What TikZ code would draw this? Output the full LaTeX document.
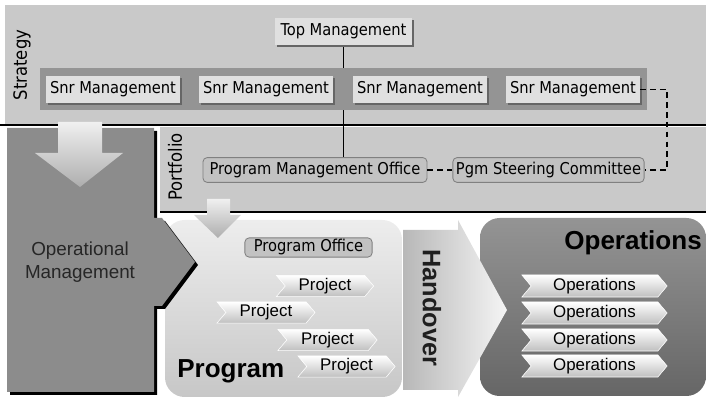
\documentclass[tikz,border=0pt]{standalone}
\usepackage{fontspec}
\setmainfont{Liberation Sans}
\newfontfamily\boxfont{DejaVu Sans Condensed}
\usepackage{tikz}
\usetikzlibrary{shapes.symbols,shadows}

\definecolor{bandgray}{gray}{0.79}
\definecolor{snrgray}{gray}{0.58}
\definecolor{opgray}{gray}{0.55}

\pgfdeclarelayer{back}
\pgfdeclarelayer{band}
\pgfsetlayers{back,band,main}

\begin{document}
\begin{tikzpicture}[x=0.025cm, y=-0.025cm,
    raised/.style={fill=black!12, inner sep=0pt, minimum height=0.68cm,
                   font=\boxfont\fontsize{11.6}{13}\selectfont,
                   drop shadow={shadow xshift=1.2pt, shadow yshift=-1.2pt,
                                fill=black!60, opacity=1}},
    inset/.style={fill=black!24, draw=black!50, line width=0.6pt,
                  rounded corners=3pt, inner sep=0pt, minimum height=0.62cm,
                  font=\boxfont\fontsize{11.6}{13}\selectfont},
    chevron/.style={signal, signal from=west, signal to=east,
                    signal pointer angle=100, top color=white,
                    bottom color=black!25, draw=white, line width=0.4pt,
                    inner sep=0pt, font=\fontsize{12}{14}\selectfont},
    sidelabel/.style={rotate=90, font=\boxfont\fontsize{13}{15}\selectfont},
    bigword/.style={inner sep=0pt, font=\bfseries\fontsize{18.5}{20}\selectfont},
    shaded arrow/.style={top color=black!6, bottom color=black!32},
    rule/.style={line width=1.4pt},
    link/.style={line width=1pt},
    dashlink/.style={link, dash pattern=on 4pt off 3pt}]
  \useasboundingbox (0,0) rectangle (706,399);

  % bands and panels
  \begin{pgfonlayer}{back}
    \fill[bandgray] (5,5) rectangle (706,125);
    \fill[bandgray] (160,127) rectangle (706,211);
    \draw[rule] (0,125) -- (706,125);
    \draw[rule] (160,212) -- (706,212);
    \shade[top color=black!7, bottom color=black!22, rounded corners=14pt]
      (165,220) rectangle (402,397);
    \shade[top color=black!42, bottom color=black!60, rounded corners=14pt]
      (480,218) rectangle (706,396);
    \shade[left color=black!28, right color=black!4]
      (403,230) -- (458,230) -- (458,220) -- (507,310) -- (458,397)
      -- (458,390) -- (403,390) -- cycle;
    \fill[black, shift={(3,3)}]
      (7,128) -- (154,128) -- (154,218) -- (162,218) -- (195,262)
      -- (162,306) -- (154,306) -- (154,392) -- (7,392) -- cycle;
    \fill[opgray]
      (7,128) -- (154,128) -- (154,218) -- (162,218) -- (195,262)
      -- (162,306) -- (154,306) -- (154,392) -- (7,392) -- cycle;
  \end{pgfonlayer}

  \shade[shaded arrow] (58,122) -- (102,122) -- (102,153) -- (123,153)
    -- (80,187) -- (35,153) -- (58,153) -- cycle;
  \shade[shaded arrow] (207,199) -- (230,199) -- (230,215) -- (241,215)
    -- (218,238) -- (194,215) -- (207,215) -- cycle;

  \node[sidelabel] (strategy) at (22,65) {Strategy};
  \node[sidelabel] (portfolio) at (175,167) {Portfolio};

  \node[raised, minimum width=3.43cm] (topmgmt) at (343.5,31.5) {Top Management};
  \node[raised, minimum width=3.35cm] (snr1) at (113,89.5) {Snr Management};
  \node[raised, minimum width=3.35cm] (snr2) at (266,89.5) {Snr Management};
  \node[raised, minimum width=3.35cm] (snr3) at (420,89.5) {Snr Management};
  \node[raised, minimum width=3.35cm] (snr4) at (573,89.5) {Snr Management};

  \node[inset, minimum width=5.6cm] (pmo) at (315,170) {Program Management Office};
  \node[inset, minimum width=4.78cm] (steering) at (548.5,170) {Pgm Steering Committee};
  \node[inset, minimum width=3.18cm, minimum height=0.48cm] (progoffice)
    at (308.5,247.5) {Program Office};

  \node[align=center, text=black!85, font=\fontsize{13.4}{16.4}\selectfont]
    (opmgmt) at (80,262) {Operational\\Management};

  \node[chevron, minimum width=2.43cm, minimum height=0.53cm] (proj1) at (325,286) {Project};
  \node[chevron, minimum width=2.45cm, minimum height=0.53cm] (proj2) at (266,312.5) {Project};
  \node[chevron, minimum width=2.48cm, minimum height=0.53cm] (proj3) at (327.5,340) {Project};
  \node[chevron, minimum width=2.43cm, minimum height=0.53cm] (proj4) at (346.5,366.5) {Project};
  \node[bigword, anchor=base west] (progword) at (177,378) {Program};

  \node[rotate=-90, text=black!88, font=\bfseries\fontsize{18}{20}\selectfont]
    (handover) at (432,308) {Handover};

  \node[bigword, anchor=base east] (opsword) at (702,250) {Operations};
  \node[chevron, minimum width=3.63cm, minimum height=0.55cm] (ops1) at (594.5,286) {Operations};
  \node[chevron, minimum width=3.63cm, minimum height=0.55cm] (ops2) at (594.5,313) {Operations};
  \node[chevron, minimum width=3.63cm, minimum height=0.55cm] (ops3) at (594.5,340) {Operations};
  \node[chevron, minimum width=3.63cm, minimum height=0.55cm] (ops4) at (594.5,366) {Operations};

  \coordinate (dashx) at (667,0);
  \begin{pgfonlayer}{back}
    \draw[link] (topmgmt.south) -- (topmgmt.south |- pmo.north);
  \end{pgfonlayer}
  \begin{pgfonlayer}{band}
    \fill[snrgray] (40,68) rectangle (647,110);
  \end{pgfonlayer}
  \draw[dashlink] (pmo.east) -- (steering.west);
  \draw[dashlink] (snr4.east) -- (snr4.east -| dashx) |- (steering.east);
\end{tikzpicture}
\end{document}
